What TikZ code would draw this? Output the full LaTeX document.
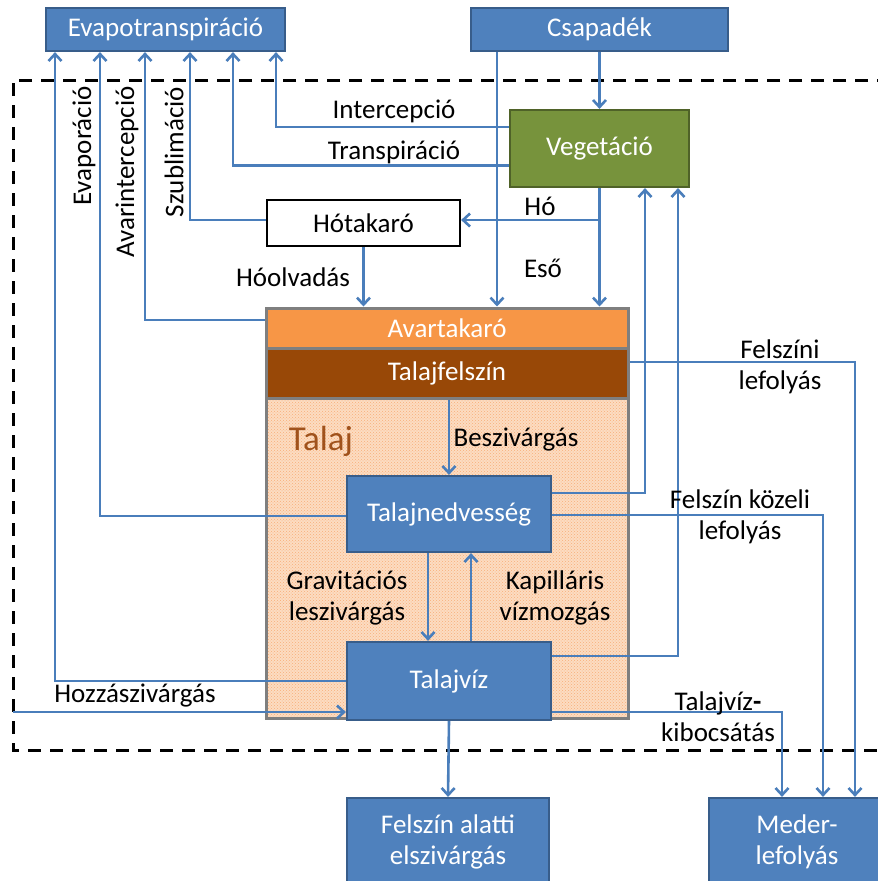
\documentclass[tikz,border=0pt]{standalone}
\usepackage{fontspec}
\setmainfont{Carlito}
\usetikzlibrary{arrows.meta,patterns,calc}
\definecolor{bfill}{HTML}{4F81BD}
\definecolor{bdark}{HTML}{385D8A}
\definecolor{flowc}{HTML}{4A7EBB}
\definecolor{gfill}{HTML}{77933C}
\definecolor{gdark}{HTML}{4F6228}
\definecolor{avarc}{HTML}{F79646}
\definecolor{felszc}{HTML}{984807}
\definecolor{greyc}{HTML}{7F7F7F}
\definecolor{talajtxt}{HTML}{A0521C}
\definecolor{dotc}{HTML}{F8AE78}
\definecolor{dotbg}{HTML}{FCDCC2}
\begin{document}
\begin{tikzpicture}[x=1pt,y=-1pt,
  txt/.style={font=\fontsize{27}{31}\selectfont,align=center,inner sep=0pt},
  bluebox/.style={txt,draw=bdark,fill=bfill,line width=2.2pt,text=white},
  layer/.style={txt,draw=greyc,line width=3pt,text=white},
  flow/.style={draw=flowc,line width=2.6pt,-{Straight Barb[length=7pt,width=13pt,line width=2.6pt]}},
  lbl/.style={txt,text=black}]
\useasboundingbox (0,0) rectangle (878,881);

% boundary
\draw[black,line width=3pt,dash pattern=on 13pt off 9pt] (890,80) -- (13,80) -- (13,750) -- (890,750);

% soil column
\node[layer,minimum width=362,minimum height=320,fill=dotbg] (talaj) at (447,558) {};
\fill[pattern=crosshatch dots,pattern color=dotc] (266,398) rectangle (628,718);
\draw[greyc,line width=3pt] (266,398) rectangle (628,718);
\node[layer,minimum width=362,minimum height=40,fill=avarc] (avar) at (447,328) {Avartakaró};
\node[layer,minimum width=362,minimum height=50,fill=felszc] (talajf) at (447,373) {Talajfelszín};
\node[txt,text=talajtxt,font=\fontsize{35}{40}\selectfont] (talajlbl) at (321,441) {Talaj};

% boxes
\node[bluebox,minimum width=239,minimum height=43] (evapo) at (165.5,29.5) {Evapotranspiráció};
\node[bluebox,minimum width=257,minimum height=43] (csap) at (599.5,29.5) {Csapadék};
\node[txt,draw=gdark,fill=gfill,line width=2.2pt,text=white,minimum width=179,minimum height=77] (veg) at (599.5,148.5) {Vegetáció};
\node[txt,draw=black,fill=white,line width=2.2pt,minimum width=193,minimum height=46] (hotak) at (363.5,223) {Hótakaró};
\node[bluebox,minimum width=204,minimum height=76] (tnedv) at (449,514) {Talajnedvesség};
\node[bluebox,minimum width=204,minimum height=78] (tviz) at (449,681) {Talajvíz};
\node[bluebox,minimum width=202,minimum height=88] (felalatt) at (448,842) {Felszín alatti\\elszivárgás};
\node[bluebox,minimum width=176,minimum height=88] (meder) at (797,842) {Meder-\\lefolyás};

% flows to evapotranspiration
\draw[flow] (tviz.west) -| ([xshift=-110.5pt]evapo.south);
\draw[flow] ([yshift=-2pt]tnedv.west) -| ([xshift=-65.5pt]evapo.south);
\draw[flow] ([yshift=8pt]avar.west) -| ([xshift=-20.5pt]evapo.south);
\draw[flow] ([yshift=3pt]hotak.west) -| ([xshift=24.5pt]evapo.south);
\draw[flow] ([yshift=-17pt]veg.west) -| ([xshift=67.5pt]evapo.south);
\draw[flow] ([yshift=21.5pt]veg.west) -| ([xshift=110.5pt]evapo.south);

% precipitation
\draw[flow] (csap.south) -- (veg.north);
\draw[flow] ([xshift=-102.5pt]csap.south) -- ([xshift=50pt]avar.north);
\draw[flow] (veg.south) -- ([xshift=152.5pt]avar.north);
\coordinate (hob) at (599.5,220);
\draw[flow] (hob) -- (hob -| hotak.east);
\draw[flow] (hotak.south) -- (hotak.south |- avar.north);

% upward to vegetation
\draw[flow] ([yshift=21pt]tnedv.east) -| ([xshift=45.5pt]veg.south);
\draw[flow] ([yshift=25pt]tviz.east) -| ([xshift=78.5pt]veg.south);

% runoff
\draw[flow] ([yshift=11pt]talajf.east) -| ([xshift=58pt]meder.north);
\draw[flow] ([yshift=-1pt]tnedv.east) -| ([xshift=26pt]meder.north);
\draw[flow] ([yshift=-31pt]tviz.east) -| ([xshift=-15pt]meder.north);

% inside soil
\draw[flow] (tnedv.north |- talajf.south) -- (tnedv.north);
\draw[flow] ([xshift=-21pt]tnedv.south) -- ([xshift=-21pt]tviz.north);
\draw[flow] ([xshift=22pt]tviz.north) -- ([xshift=22pt]tnedv.south);
\coordinate (hzs) at (13,712);
\draw[flow] (hzs) -- ([yshift=-31pt]tviz.west);
\draw[flow] (tviz.south) -- (felalatt.north);

% labels
\node[lbl] (l1) at (394,111) {Intercepció};
\node[lbl] (l2) at (394,152) {Transpiráció};
\node[lbl] (l3) at (540,206) {Hó};
\node[lbl] (l4) at (543,268) {Eső};
\node[lbl] (l5) at (293,277) {Hóolvadás};
\node[lbl,rotate=90] (l6) at (84,146) {Evaporáció};
\node[lbl,rotate=90] (l7) at (127,172) {Avarintercepció};
\node[lbl,rotate=90] (l8) at (174,152) {Szublimáció};
\node[lbl] (l9) at (516,440) {Beszivárgás};
\node[lbl] (l10) at (347,598) {Gravitációs\\leszivárgás};
\node[lbl] (l11) at (555,598) {Kapilláris\\vízmozgás};
\node[lbl] (l12) at (780,367) {Felszíni\\lefolyás};
\node[lbl] (l13) at (740,517) {Felszín közeli\\lefolyás};
\node[lbl] (l14) at (135,696) {Hozzászivárgás};
\node[lbl] (l15) at (718,717) {Talajvíz\textbf{-}\\kibocsátás};
\end{tikzpicture}
\end{document}
